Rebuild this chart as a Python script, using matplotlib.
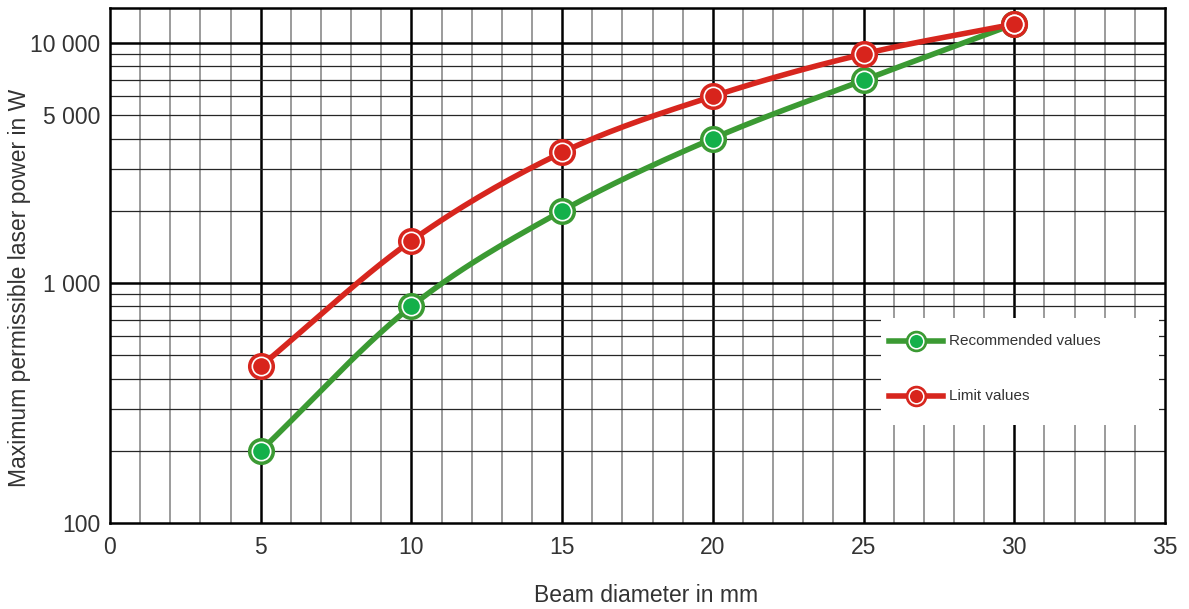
import numpy as np
import matplotlib.pyplot as plt
from matplotlib.patches import Rectangle

# beam diameter (mm) and permissible laser power (W)
diameter = [5, 10, 15, 20, 25, 30]
recommended = [200, 800, 2000, 4000, 7000, 12000]
limit = [450, 1500, 3500, 6000, 9000, 12000]

x_ticks = [0, 5, 10, 15, 20, 25, 30, 35]
y_ticks = [100, 1000, 5000, 10000]
y_ticklabels = ['100', '1 000', '5 000', '10 000']

plt.rcParams['font.family'] = ['Liberation Sans', 'DejaVu Sans']

GREEN = '#3b9a33'
GREEN_IN = '#14b04a'
RED = '#d7261e'
RED_IN = '#d8241c'
TXT = '#333333'


def smooth(xs, ys, n=30):
    # Catmull-Rom through the points, in log space, only for drawing the line
    x = np.asarray(xs, float)
    y = np.log10(np.asarray(ys, float))
    px = np.concatenate([[2 * x[0] - x[1]], x, [2 * x[-1] - x[-2]]])
    py = np.concatenate([[2 * y[0] - y[1]], y, [2 * y[-1] - y[-2]]])
    outx, outy = [], []
    t = np.linspace(0, 1, n)
    for i in range(1, len(px) - 2):
        for arr, out in ((px, outx), (py, outy)):
            p0, p1, p2, p3 = arr[i - 1], arr[i], arr[i + 1], arr[i + 2]
            out.extend(0.5 * (2 * p1 + (-p0 + p2) * t
                              + (2 * p0 - 5 * p1 + 4 * p2 - p3) * t ** 2
                              + (-p0 + 3 * p1 - 3 * p2 + p3) * t ** 3))
    return np.array(outx), 10 ** np.array(outy)


def marker(ax, x, y, ring, inner, **kw):
    ax.plot(x, y, 'o', ms=18.5, mfc=ring, mec=ring, zorder=5, **kw)
    ax.plot(x, y, 'o', ms=13.2, mfc=inner, mec='white', mew=1.2, zorder=6, **kw)


fig = plt.figure(figsize=(11.89, 6.09), dpi=100)
ax = fig.add_axes([0.0925, 0.1412, 0.8873, 0.8457])
ax.set_yscale('log')
ax.set_xlim(0, 35)
ax.set_ylim(100, 14000)

# grid
for v in range(1, 35):
    if v % 5 == 0:
        ax.axvline(v, color='black', lw=1.8, zorder=1)
    else:
        ax.axvline(v, color='#8a8a8a', lw=1.2, zorder=1)
for dec in [100, 1000]:
    for m in range(2, 10):
        ax.axhline(dec * m, color='#262626', lw=0.9, zorder=1)
for v in [1000, 10000]:
    ax.axhline(v, color='black', lw=1.8, zorder=1)

# curves
sx, sy = smooth(diameter, recommended)
ax.plot(sx, sy, color=GREEN, lw=4.0, zorder=3, solid_capstyle='round')
sx, sy = smooth(diameter, limit)
ax.plot(sx, sy, color=RED, lw=4.0, zorder=3, solid_capstyle='round')
marker(ax, diameter, recommended, GREEN, GREEN_IN)
marker(ax, diameter, limit, RED, RED_IN)

# legend box
ax.add_patch(Rectangle((0.731, 0.19), 0.263, 0.208, transform=ax.transAxes,
                       facecolor='white', edgecolor='none', zorder=7))
for yy, ring, inner, lab in [(0.353, GREEN, GREEN_IN, 'Recommended values'),
                             (0.247, RED, RED_IN, 'Limit values')]:
    ax.plot([0.738, 0.790], [yy, yy], color=ring, lw=4.0, transform=ax.transAxes,
            zorder=8)
    ax.plot(0.764, yy, 'o', ms=14.5, mfc=ring, mec=ring, transform=ax.transAxes,
            zorder=9)
    ax.plot(0.764, yy, 'o', ms=10.5, mfc=inner, mec='white', mew=1.1,
            transform=ax.transAxes, zorder=10)
    ax.text(0.795, yy, lab, transform=ax.transAxes, fontsize=11, color=TXT,
            va='center', ha='left', zorder=10)

ax.set_xticks(x_ticks)
ax.set_yticks(y_ticks)
ax.set_yticklabels(y_ticklabels)
ax.minorticks_off()
ax.tick_params(length=0, labelsize=16.5, labelcolor=TXT)
ax.tick_params(axis='x', pad=9)
ax.tick_params(axis='y', pad=7)
for s in ax.spines.values():
    s.set_linewidth(1.8)
    s.set_color('black')

fig.text(646 / 1189, 1 - 595 / 609, 'Beam diameter in mm', fontsize=16.5,
         color=TXT, ha='center', va='center')
fig.text(20 / 1189, 1 - 288 / 609, 'Maximum permissible laser power in W',
         fontsize=16.5, color=TXT, ha='center', va='center', rotation=90)

fig.savefig('out.png', dpi=100)
